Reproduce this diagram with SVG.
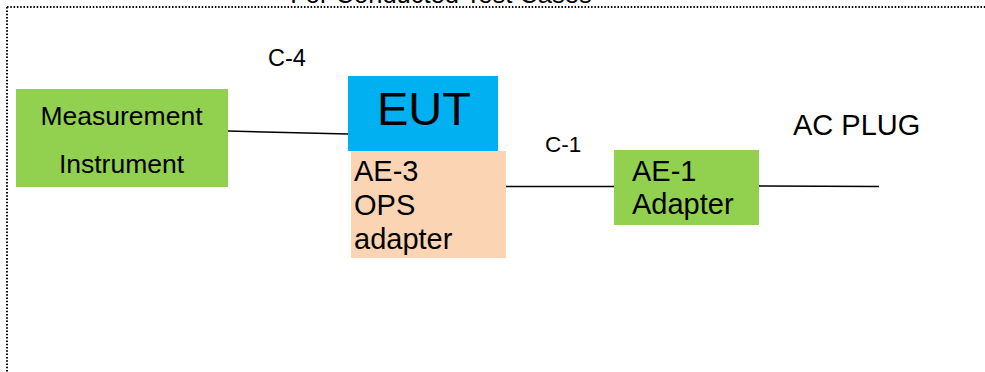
<svg xmlns="http://www.w3.org/2000/svg" width="985" height="372" viewBox="0 0 985 372">
<style>
text{font-family:"Liberation Sans",Arial,sans-serif;fill:#000}
.green{fill:#92D050}
.blue{fill:#00B0F0}
.peach{fill:#FBD4B4}
.conn{stroke:#000;stroke-width:1.5;fill:none}
.border{fill:none;stroke:#000;stroke-width:2;stroke-dasharray:1.5 1.8}
</style>
<rect class="border" x="7" y="7" width="1000" height="400"/>
<text x="441" y="3" font-size="25.5" text-anchor="middle">For Conducted Test Cases</text>
<g id="connectors">
<line class="conn" x1="228" y1="131" x2="348" y2="134"/>
<line class="conn" x1="506" y1="186.5" x2="614" y2="186.5"/>
<line class="conn" x1="759" y1="186" x2="879" y2="186.5"/>
<text x="268" y="66" font-size="23.5">C-4</text>
<text x="545" y="152" font-size="22.5">C-1</text>
</g>
<g id="measurement">
<rect class="green" x="16" y="89" width="212" height="98"/>
<text x="121.5" y="125" font-size="26.5" text-anchor="middle">Measurement</text>
<text x="121.5" y="173" font-size="26.5" text-anchor="middle">Instrument</text>
</g>
<g id="eut">
<rect class="blue" x="348" y="76" width="150" height="75"/>
<text x="424" y="125" font-size="47" text-anchor="middle">EUT</text>
</g>
<g id="ae3">
<rect class="peach" x="351" y="151" width="155" height="107"/>
<text x="354" y="181" font-size="29">AE-3</text>
<text x="354" y="215" font-size="29">OPS</text>
<text x="354" y="249" font-size="29">adapter</text>
</g>
<g id="ae1">
<rect class="green" x="614" y="150" width="145" height="75"/>
<text x="632" y="181" font-size="29">AE-1</text>
<text x="632" y="214" font-size="29">Adapter</text>
</g>
<g id="acplug">
<text x="793" y="135" font-size="29">AC PLUG</text>
</g>
</svg>
